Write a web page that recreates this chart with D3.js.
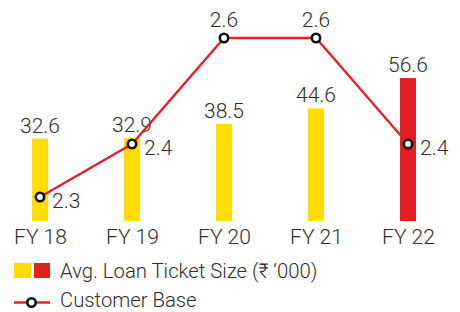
<!DOCTYPE html>
<html>
<head>
<meta charset="utf-8">
<script src="https://cdn.jsdelivr.net/npm/d3@7"></script>
<style>
  html, body { margin: 0; padding: 0; background: #fff; }
  svg { display: block; }
  text { font-family: Roboto, "Noto Sans", sans-serif; font-weight: 300; fill: #2e2e2e; }
</style>
</head>
<body>
<svg id="chart" width="460" height="312"></svg>
<script>
const categories = ["FY 18", "FY 19", "FY 20", "FY 21", "FY 22"];
const ticketSize = [32.6, 32.9, 38.5, 44.6, 56.6];
const customerBase = [2.3, 2.4, 2.6, 2.6, 2.4];
const legendLabels = ["Avg. Loan Ticket Size (\u20B9 \u2018000)", "Customer Base"];

const yellow = "#FFDD00", red = "#E31E24", lineRed = "#E8202A";
const svg = d3.select("#chart");

const x = d3.scalePoint().domain(categories).range([40, 408]);
const yBar = d3.scaleLinear().domain([0, 60]).range([221, 69.5]);
const yLine = d3.scaleLinear().domain([2.3, 2.6]).range([197, 38]);
const barW = 16;
const fs = 21;

// bars
svg.append("g").selectAll("rect").data(categories).join("rect")
  .attr("x", d => x(d) - barW / 2)
  .attr("y", (d, i) => yBar(ticketSize[i]))
  .attr("width", barW)
  .attr("height", (d, i) => yBar(0) - yBar(ticketSize[i]))
  .attr("fill", (d, i) => i === categories.length - 1 ? red : yellow);

// bar labels
svg.append("g").selectAll("text").data(categories).join("text")
  .attr("x", d => x(d))
  .attr("y", (d, i) => yBar(ticketSize[i]) - 6)
  .attr("text-anchor", "middle")
  .attr("font-size", fs)
  .text((d, i) => ticketSize[i].toFixed(1));

// x axis
const axis = svg.append("g").attr("transform", `translate(0,${yBar(0)})`)
  .call(d3.axisBottom(x).tickSize(0).tickPadding(8));
axis.select(".domain").remove();
axis.selectAll("text").attr("font-size", fs).attr("font-family", null).style("fill", "#2e2e2e");

// line
const line = d3.line().x((d, i) => x(categories[i])).y(d => yLine(d));
svg.append("path").datum(customerBase)
  .attr("d", line).attr("fill", "none")
  .attr("stroke", lineRed).attr("stroke-width", 2.3);

svg.append("g").selectAll("circle").data(customerBase).join("circle")
  .attr("cx", (d, i) => x(categories[i]))
  .attr("cy", d => yLine(d))
  .attr("r", 4.2)
  .attr("fill", "#fff").attr("stroke", "#111").attr("stroke-width", 2.6);

const maxCB = d3.max(customerBase);
svg.append("g").selectAll("text").data(customerBase).join("text")
  .attr("x", (d, i) => x(categories[i]) + (d === maxCB ? 0 : 12))
  .attr("y", d => yLine(d) + (d === maxCB ? -11 : 11))
  .attr("text-anchor", d => d === maxCB ? "middle" : "start")
  .attr("font-size", fs)
  .text(d => d.toFixed(1));

// legend
const lg = svg.append("g");
lg.append("rect").attr("x", 14).attr("y", 263).attr("width", 17).attr("height", 15).attr("fill", yellow);
lg.append("rect").attr("x", 34).attr("y", 263).attr("width", 16).attr("height", 15).attr("fill", red);
lg.append("text").attr("x", 60).attr("y", 278).attr("font-size", 20.3).text(legendLabels[0]);
lg.append("line").attr("x1", 14).attr("x2", 50).attr("y1", 302.5).attr("y2", 302.5)
  .attr("stroke", lineRed).attr("stroke-width", 2.3);
lg.append("circle").attr("cx", 31.5).attr("cy", 302.5).attr("r", 4.2)
  .attr("fill", "#fff").attr("stroke", "#111").attr("stroke-width", 2.6);
lg.append("text").attr("x", 60).attr("y", 307).attr("font-size", 20.3).text(legendLabels[1]);
</script>
</body>
</html>
